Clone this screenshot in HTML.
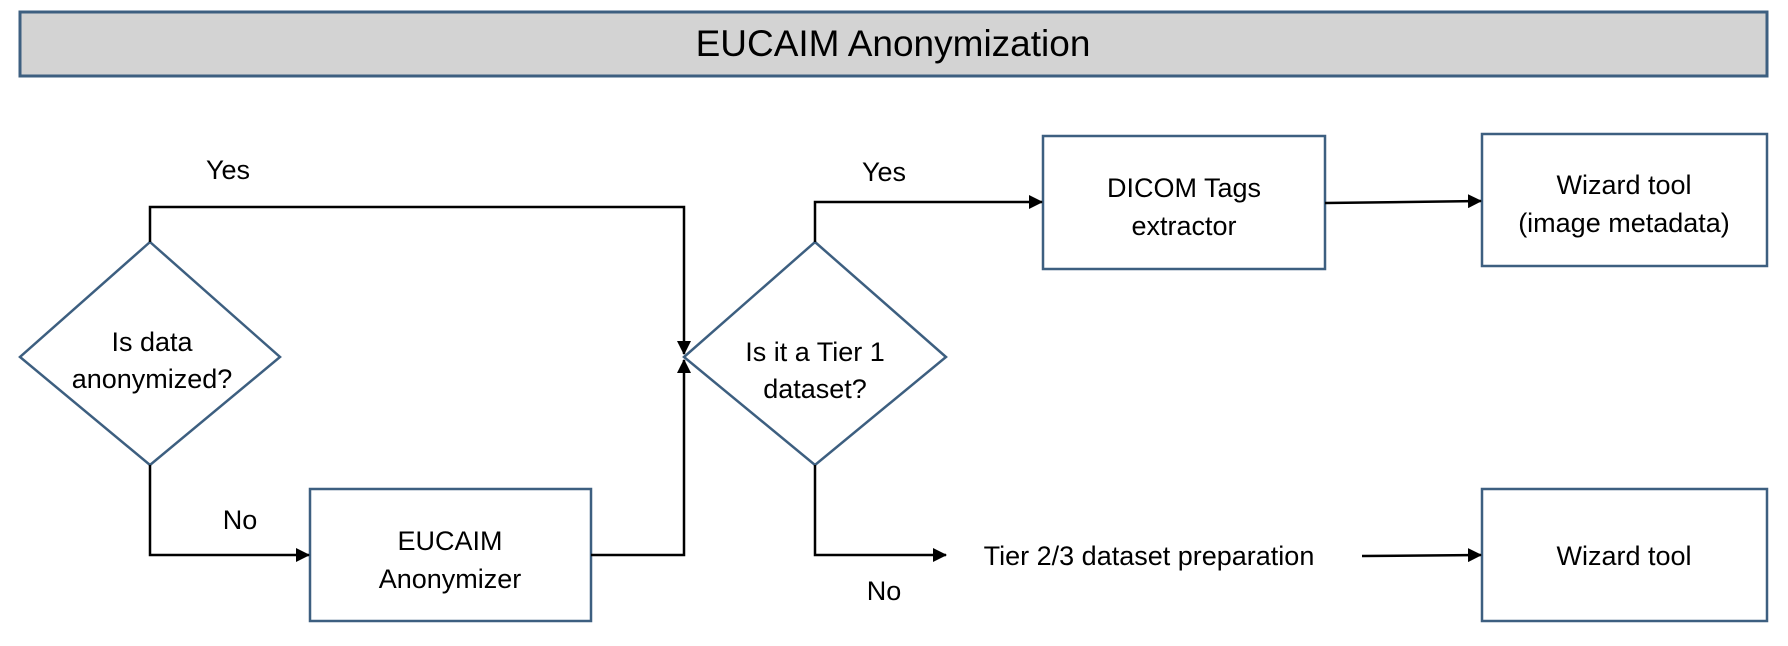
<!DOCTYPE html>
<html><head><style>
html,body{margin:0;padding:0;background:#fff;}
svg{display:block;}
text{font-family:"Liberation Sans",sans-serif;fill:#000;}
</style></head><body>
<svg width="1788" height="646" viewBox="0 0 1788 646" xmlns="http://www.w3.org/2000/svg">
<defs><marker id="a" markerWidth="14" markerHeight="14" refX="13" refY="7" orient="auto" markerUnits="userSpaceOnUse"><path d="M0,0 L14,7 L0,14 z" fill="#000"/></marker></defs>
<rect x="20" y="12" width="1747" height="64" fill="#d3d3d3" stroke="#3d5f80" stroke-width="3"/>
<text x="893" y="56" font-size="37" text-anchor="middle">EUCAIM Anonymization</text>
<g fill="#fff" stroke="#3d5f80" stroke-width="2.5">
<polygon points="150,242 280,357 150,465 20,357"/>
<polygon points="815,242 946,357 815,465 684,357"/>
<rect x="310" y="489" width="281" height="132"/>
<rect x="1043" y="136" width="282" height="133"/>
<rect x="1482" y="134" width="285" height="132"/>
<rect x="1482" y="489" width="285" height="132"/>
</g>
<g fill="none" stroke="#000" stroke-width="2.5">
<polyline points="150,242 150,207 684,207 684,354" marker-end="url(#a)"/>
<polyline points="150,465 150,555 309,555" marker-end="url(#a)"/>
<polyline points="591,555 684,555 684,360" marker-end="url(#a)"/>
<polyline points="815,242 815,202 1042,202" marker-end="url(#a)"/>
<line x1="1325" y1="203" x2="1481" y2="201" marker-end="url(#a)"/>
<polyline points="815,465 815,555 946,555" marker-end="url(#a)"/>
<line x1="1362" y1="556" x2="1481" y2="555" marker-end="url(#a)"/>
</g>
<g font-size="27" text-anchor="middle">
<text x="228" y="179">Yes</text>
<text x="240" y="529">No</text>
<text x="884" y="181">Yes</text>
<text x="884" y="600">No</text>
<text x="152" y="351">Is data</text>
<text x="152" y="388">anonymized?</text>
<text x="815" y="361">Is it a Tier 1</text>
<text x="815" y="398">dataset?</text>
<text x="450" y="550">EUCAIM</text>
<text x="450" y="588">Anonymizer</text>
<text x="1184" y="197">DICOM Tags</text>
<text x="1184" y="235">extractor</text>
<text x="1624" y="194">Wizard tool</text>
<text x="1624" y="232">(image metadata)</text>
<text x="1624" y="565">Wizard tool</text>
<text x="1149" y="565">Tier 2/3 dataset preparation</text>
</g>
</svg>
</body></html>
